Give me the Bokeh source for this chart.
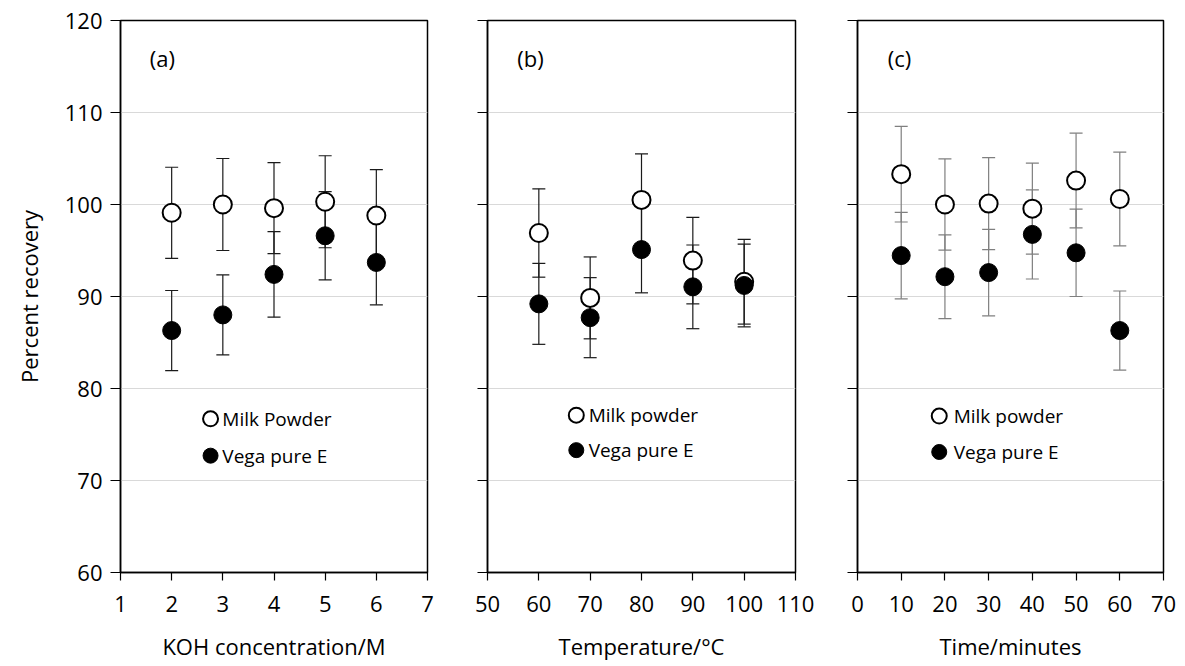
from bokeh.plotting import figure
from bokeh.layouts import row
from bokeh.models import ColumnDataSource, Whisker, TeeHead, Range1d, FixedTicker
from bokeh.core.properties import value
from bokeh.embed import file_html
from bokeh.resources import INLINE

# ---------------- data ----------------
koh = [2, 3, 4, 5, 6]
koh_milk = [99.1, 100.0, 99.6, 100.3, 98.8]
koh_milk_err = [4.95, 5.0, 4.95, 5.0, 5.0]
koh_vega = [86.3, 88.0, 92.4, 96.6, 93.7]
koh_vega_err = [4.35, 4.35, 4.65, 4.8, 4.6]

temp = [60, 70, 80, 90, 100]
temp_milk = [96.9, 89.85, 100.5, 93.9, 91.6]
temp_milk_err = [4.8, 4.45, 5.0, 4.7, 4.6]
temp_vega = [89.2, 87.7, 95.1, 91.05, 91.2]
temp_vega_err = [4.4, 4.35, 4.7, 4.55, 4.5]

minutes = [10, 20, 30, 40, 50, 60]
time_milk = [103.3, 100.0, 100.1, 99.55, 102.6, 100.6]
time_milk_err = [5.2, 4.95, 5.0, 4.95, 5.15, 5.1]
time_vega = [94.45, 92.15, 92.6, 96.75, 94.75, 86.3]
time_vega_err = [4.7, 4.55, 4.7, 4.85, 4.75, 4.3]

y_ticks = [60, 70, 80, 90, 100, 110, 120]
koh_ticks = [1, 2, 3, 4, 5, 6, 7]
temp_ticks = [50, 60, 70, 80, 90, 100, 110]
time_ticks = [0, 10, 20, 30, 40, 50, 60, 70]

panel_titles = ["(a)", "(b)", "(c)"]
x_titles = ["KOH concentration/M", "Temperature/°C", "Time/minutes"]
milk_names = ["Milk Powder", "Milk powder", "Milk powder"]
vega_name = "Vega pure E"
y_title = "Percent recovery"

FONT = "Open Sans"


def make_panel(xs, milk, milk_err, vega, vega_err, xticks, xtitle, ptitle,
               milk_name, first, border_left, frame_w, border_right,
               bar_color, tag_xy, leg_xy):
    p = figure(output_backend="svg", toolbar_location=None,
               frame_width=frame_w, frame_height=552,
               min_border_left=border_left, min_border_right=border_right,
               min_border_top=20, min_border_bottom=20,
               x_range=Range1d(xticks[0], xticks[-1]),
               y_range=Range1d(60, 120))
    p.background_fill_color = "white"
    p.border_fill_color = "white"
    p.outline_line_color = "black"
    p.outline_line_width = 1.5
    p.xgrid.grid_line_color = None
    p.ygrid.grid_line_color = "#d9d9d9"
    p.ygrid.grid_line_width = 1.2
    p.xaxis.ticker = FixedTicker(ticks=xticks)
    p.yaxis.ticker = FixedTicker(ticks=y_ticks)
    for ax in (p.xaxis, p.yaxis):
        ax.axis_line_color = "black"
        ax.axis_line_width = 1.5
        ax.major_tick_line_color = "black"
        ax.major_tick_line_width = 1.2
        ax.major_tick_in = 0
        ax.minor_tick_line_color = None
        ax.major_label_text_font = FONT
        ax.major_label_text_font_size = "22px"
        ax.major_label_text_color = "black"
        ax.axis_label_text_font = FONT
        ax.axis_label_text_font_size = "22px"
        ax.axis_label_text_font_style = "normal"
        ax.axis_label_text_color = "black"
    p.xaxis.major_tick_out = 8
    p.yaxis.major_tick_out = 10
    p.xaxis.major_label_standoff = 15
    p.xaxis.axis_label = xtitle
    p.xaxis.axis_label_standoff = 16
    if first:
        p.yaxis.axis_label = y_title
        p.yaxis.major_label_standoff = 8
        p.yaxis.axis_label_standoff = 18
    else:
        p.yaxis.major_label_overrides = {t: "" for t in y_ticks}
        p.yaxis.major_label_standoff = 0

    src_m = ColumnDataSource(dict(x=xs, y=milk,
                                  lo=[a - b for a, b in zip(milk, milk_err)],
                                  hi=[a + b for a, b in zip(milk, milk_err)]))
    src_v = ColumnDataSource(dict(x=xs, y=vega,
                                  lo=[a - b for a, b in zip(vega, vega_err)],
                                  hi=[a + b for a, b in zip(vega, vega_err)]))
    for src in (src_m, src_v):
        w = Whisker(source=src, base="x", lower="lo", upper="hi",
                    line_color=bar_color, line_width=1.2,
                    upper_head=TeeHead(size=13, line_color=bar_color, line_width=1.2),
                    lower_head=TeeHead(size=13, line_color=bar_color, line_width=1.2))
        p.add_layout(w)

    p.scatter("x", "y", source=src_m, size=18, marker="circle",
              fill_color="white", line_color="black", line_width=2)
    p.scatter("x", "y", source=src_v, size=18, marker="circle",
              fill_color="black", line_color="black", line_width=1)

    # panel tag
    p.text(x=[tag_xy[0]], y=[tag_xy[1]], text=[ptitle],
           text_font=value(FONT), text_font_size=value("22px"),
           text_baseline="middle", text_align="left", text_color="black")

    # legend (manual)
    lx, ltx, ly1, ly2 = leg_xy
    p.scatter(x=[lx], y=[ly1], size=15, marker="circle",
              fill_color="white", line_color="black", line_width=2)
    p.scatter(x=[lx], y=[ly2], size=15, marker="circle",
              fill_color="black", line_color="black")
    p.text(x=[ltx, ltx], y=[ly1, ly2], text=[milk_name, vega_name],
           text_font=value(FONT), text_font_size=value("19px"),
           text_baseline="middle", text_align="left", text_color="black")
    return p


pa = make_panel(koh, koh_milk, koh_milk_err, koh_vega, koh_vega_err,
                koh_ticks, x_titles[0], panel_titles[0], milk_names[0], True,
                120, 307, 30, "#1a1a1a", (1.57, 115.9), (2.76, 2.99, 76.7, 72.7))
pb = make_panel(temp, temp_milk, temp_milk_err, temp_vega, temp_vega_err,
                temp_ticks, x_titles[1], panel_titles[1], milk_names[1], False,
                30, 308, 31, "#1a1a1a", (55.8, 115.9), (67.3, 69.7, 77.1, 73.3))
pc = make_panel(minutes, time_milk, time_milk_err, time_vega, time_vega_err,
                time_ticks, x_titles[2], panel_titles[2], milk_names[2], False,
                31, 306, 14, "#7f7f7f", (6.9, 115.9), (18.7, 22.0, 77.0, 73.1))

layout = row(pa, pb, pc, spacing=0)
open("out.html", "w").write(file_html(layout, INLINE))
